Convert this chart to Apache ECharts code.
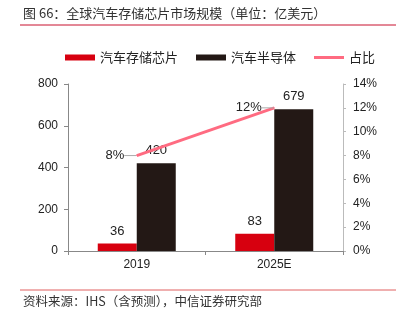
<!DOCTYPE html>
<html>
<head>
<meta charset="utf-8">
<script src="https://cdn.jsdelivr.net/npm/echarts@6/dist/echarts.min.js"></script>
<style>
  html, body { margin: 0; padding: 0; background: #fff; }
  #chart { width: 404px; height: 322px; }
</style>
</head>
<body>
<div id="chart"></div>
<script>
// Global automotive memory chip market size (USD 100M)
var categories = ['2019', '2025E'];
var memoryChips = [36, 83];        // 汽车存储芯片
var semiconductors = [420, 679];   // 汽车半导体
var sharePct = [8, 12];            // 占比 (%)
var leftTicks = { min: 0, max: 800, interval: 200 };
var rightTicks = { min: 0, max: 14, interval: 2 };

var FONT = '"Liberation Sans", "Noto Sans CJK SC", sans-serif';
var CJK = '"Noto Sans CJK SC", "Liberation Sans", sans-serif';
var RED = '#d7000f';
var DARK = '#231815';
var PINK = '#ff6b81';

var chart = echarts.init(document.getElementById('chart'), null, { renderer: 'canvas' });

chart.setOption({
  animation: false,
  backgroundColor: '#fff',
  textStyle: { fontFamily: FONT },
  graphic: [
    { type: 'text', left: 23, top: 7,
      style: { text: '图 66：全球汽车存储芯片市场规模（单位：亿美元）', fill: '#333', font: '13px ' + CJK } },
    { type: 'line', shape: { x1: 20, y1: 25, x2: 396, y2: 25 },
      style: { stroke: '#c8102e', lineWidth: 1 } },
    { type: 'line', shape: { x1: 20, y1: 290, x2: 396, y2: 290 },
      style: { stroke: '#e06060', lineWidth: 1 } },
    { type: 'text', left: 23, top: 295,
      style: { text: '资料来源：IHS（含预测），中信证券研究部', fill: '#333', font: '12.5px ' + CJK } }
  ],
  legend: {
    top: 46, left: 60,
    itemWidth: 30, itemHeight: 6, itemGap: 18,
    textStyle: { fontFamily: CJK, fontSize: 13, color: '#222' },
    data: [
      { name: '汽车存储芯片', icon: 'rect' },
      { name: '汽车半导体', icon: 'rect' },
      // thin bar: empty sub-paths pad the box so the bar stays 3px tall
      { name: '占比', icon: 'path://M0,0H30V0H0Z M0,1.5H30V4.5H0Z M0,6H30V6H0Z' }
    ]
  },
  grid: { left: 68, right: 61, top: 84, bottom: 71 },
  xAxis: {
    type: 'category',
    data: categories,
    axisLine: { lineStyle: { color: '#888' } },
    axisTick: { show: true, length: 4, lineStyle: { color: '#888' } },
    axisLabel: { color: '#222', fontSize: 12, margin: 8 }
  },
  yAxis: [
    {
      type: 'value', min: leftTicks.min, max: leftTicks.max, interval: leftTicks.interval,
      axisLine: { show: true, lineStyle: { color: '#888' } },
      axisTick: { show: true, length: 4, lineStyle: { color: '#888' } },
      axisLabel: { color: '#222', fontSize: 12, margin: 10 },
      splitLine: { show: false }
    },
    {
      type: 'value', position: 'right', min: rightTicks.min, max: rightTicks.max, interval: rightTicks.interval,
      axisLine: { show: true, lineStyle: { color: '#bbb' } },
      axisTick: { show: true, length: 3, lineStyle: { color: '#bbb' } },
      axisLabel: { color: '#222', fontSize: 12, margin: 10, formatter: '{value}%' },
      splitLine: { show: false }
    }
  ],
  series: [
    {
      name: '汽车存储芯片', type: 'bar', data: memoryChips,
      barWidth: 39, barGap: '0%',
      itemStyle: { color: RED },
      label: { show: true, position: 'top', distance: 6, color: '#222', fontSize: 13 }
    },
    {
      name: '汽车半导体', type: 'bar', data: semiconductors,
      barWidth: 39,
      itemStyle: { color: DARK },
      label: { show: true, position: 'top', distance: 6, color: '#222', fontSize: 13 }
    },
    {
      name: '占比', type: 'line', yAxisIndex: 1, data: sharePct,
      symbol: 'circle', symbolSize: 1,
      color: PINK,
      lineStyle: { color: PINK, width: 3 },
      itemStyle: { color: PINK },
      label: { show: true, position: 'left', distance: 3, color: '#222', fontSize: 13, formatter: '{c}%' },
      labelLayout: { dx: -9 },
      labelLine: { show: true, lineStyle: { color: '#aaa', width: 1 } },
      z: 5
    }
  ]
});
</script>
</body>
</html>
